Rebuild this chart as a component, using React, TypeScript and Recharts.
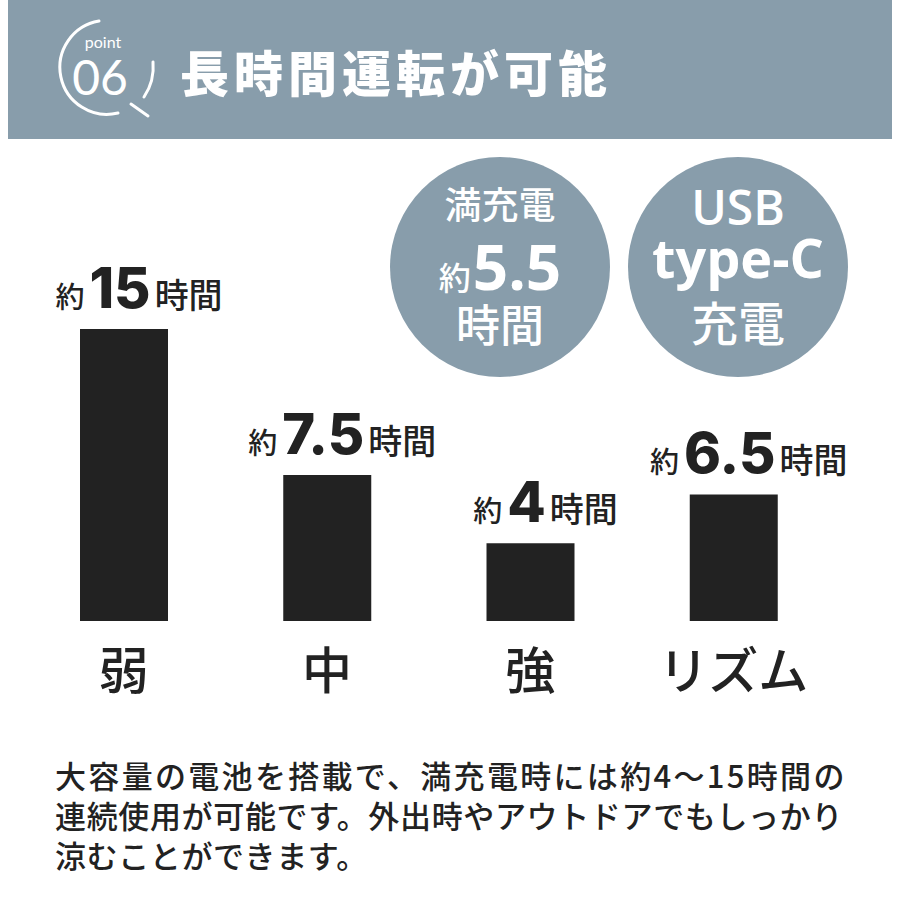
import { BarChart, Bar, XAxis, YAxis, LabelList } from 'recharts';

const modes = ['弱', '中', '強', 'リズム'];
const hours = [15, 7.5, 4, 6.5];
const hourLabels = ['15', '7.5', '4', '6.5'];

const bodyLines = [
  '大容量の電池を搭載で、満充電時には約4～15時間の',
  '連続使用が可能です。外出時やアウトドアでもしっかり',
  '涼むことができます。',
];
const bodyWidths = [790, 788, undefined];

const chartData = modes.map((mode, i) => ({ mode, hours: hours[i], label: hourLabels[i] }));

const BLUE = '#889dab';
const INK = '#222222';
const JP = '"Noto Sans CJK JP", "Noto Sans", sans-serif';

const ModeTick = (props: any) => {
  const { x, y, payload } = props;
  return (
    <text x={x} y={y + 68} textAnchor="middle" fill={INK} fontSize={50} fontWeight={500} fontFamily={JP}>
      {payload.value}
    </text>
  );
};

const HourLabel = (props: any) => {
  const { x, y, width, index } = props;
  const cx = x + width / 2 + 15;
  return (
    <text x={cx} y={y - 21} textAnchor="middle" fill={INK} fontFamily={JP}>
      <tspan fontSize={29} fontWeight={500}>約</tspan>
      <tspan dx={5} fontSize={56} fontWeight={800} fontFamily="Inter, sans-serif">
        {hourLabels[index]}
      </tspan>
      <tspan dx={4} fontSize={34} fontWeight={500}>時間</tspan>
    </text>
  );
};

export default function App() {
  return (
    <div style={{ position: 'absolute', left: 0, top: 0, width: 900, height: 900, background: '#fff', overflow: 'hidden' }}>
      <svg width={900} height={900} style={{ position: 'absolute', left: 0, top: 0 }}>
        <rect x={8} y={0} width={884} height={139} fill={BLUE} />
        {/* point icon */}
        <path d="M99 21 A47 47 0 1 0 118 113" fill="none" stroke="#fff" strokeWidth={3} strokeLinecap="round" />
        <path d="M131 104 L148 116" fill="none" stroke="#fff" strokeWidth={3} strokeLinecap="round" />
        <path d="M153 62 A54 54 0 0 1 144 97" fill="none" stroke="#fff" strokeWidth={3} strokeLinecap="round" />
        <text x={103} y={48} textAnchor="middle" fill="#fff" fontSize={16} fontFamily="Lato, sans-serif">point</text>
        <text x={100} y={95} textAnchor="middle" fill="#fff" fontSize={48} fontWeight={400} fontFamily="Lato, sans-serif">06</text>
        <text x={180} y={92} fill="#fff" fontSize={49} fontWeight={900} letterSpacing={5} fontFamily={JP}>
          長時間運転が可能
        </text>
        {/* feature circles */}
        <circle cx={500} cy={267} r={110} fill={BLUE} />
        <circle cx={738} cy={267} r={110} fill={BLUE} />
        <text x={500} y={219} textAnchor="middle" fill="#fff" fontSize={37} fontWeight={500} fontFamily={JP}>満充電</text>
        <text x={500} y={290} textAnchor="middle" fill="#fff" fontFamily={JP}>
          <tspan fontSize={32} fontWeight={500}>約</tspan>
          <tspan dx={2} fontSize={62} fontWeight={700} fontFamily='"Open Sans", sans-serif'>5.5</tspan>
        </text>
        <text x={500} y={342} textAnchor="middle" fill="#fff" fontSize={44} fontWeight={500} fontFamily={JP}>時間</text>
        <text x={738} y={225} textAnchor="middle" fill="#fff" fontSize={48} fontWeight={600} fontFamily='"Open Sans", sans-serif'>USB</text>
        <text x={738} y={278} textAnchor="middle" fill="#fff" fontSize={54} fontWeight={700} fontFamily='"Open Sans", sans-serif'>type-C</text>
        <text x={738} y={341} textAnchor="middle" fill="#fff" fontSize={47} fontWeight={500} fontFamily={JP}>充電</text>
        {/* body copy */}
        {bodyLines.map((line, i) => (
          <text
            key={i}
            x={55}
            y={788 + i * 40}
            fill={INK}
            fontSize={31}
            fontWeight={500}
            letterSpacing={0.6}
            fontFamily={JP}
            textLength={bodyWidths[i]}
            lengthAdjust={bodyWidths[i] ? 'spacing' : undefined}
          >
            {line}
          </text>
        ))}
      </svg>
      <div style={{ position: 'absolute', left: 0, top: 0 }}>
        <BarChart width={900} height={900} data={chartData} margin={{ top: 329, right: 65, bottom: 179, left: 22 }}>
          <YAxis hide domain={[0, 15]} />
          <XAxis dataKey="mode" height={100} axisLine={false} tickLine={false} tickSize={0} tickMargin={0} tick={<ModeTick />} interval={0} />
          <Bar dataKey="hours" fill={INK} barSize={88} isAnimationActive={false}>
            <LabelList dataKey="label" content={<HourLabel />} />
          </Bar>
        </BarChart>
      </div>
    </div>
  );
}
